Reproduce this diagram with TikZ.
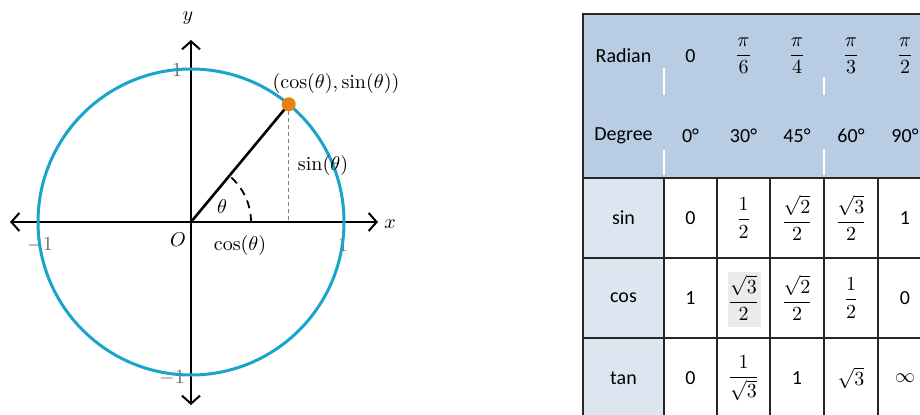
\documentclass[tikz,border=0pt]{standalone}
\usepackage{fontspec}
\newfontfamily\tabfont{Carlito}
\usetikzlibrary{arrows.meta,positioning,calc}
\definecolor{circblue}{HTML}{19A5CB}
\definecolor{ptorange}{HTML}{E8820E}
\definecolor{hdrblue}{HTML}{B8CCE4}
\definecolor{rowblue}{HTML}{DCE6F1}
\definecolor{gridline}{HTML}{262626}
\tikzset{
  axisline/.style={line width=1pt,
    {Straight Barb[length=4pt,width=9pt]}-{Straight Barb[length=4pt,width=9pt]}},
  ticklab/.style={font=\normalsize,text=black!60,inner sep=0pt},
  lab/.style={font=\normalsize,inner sep=1pt},
  cell/.style={font=\tabfont\normalsize,inner sep=0pt,align=center},
  gridln/.style={draw=gridline,line width=0.8pt},
  hdrgap/.style={draw=white,line width=0.7pt},
}
\newcommand{\fr}[2]{$\displaystyle\frac{#1}{#2}$}

\begin{document}
\begin{tikzpicture}[x=0.5pt,y=0.5pt]
  \useasboundingbox (0,0) rectangle (920,414);
  % unit circle
  \begin{scope}[shift={(191,192)}]
    \coordinate (O) at (0,0);
    \coordinate (xl) at (-181,0);
    \coordinate (xr) at (187,0);
    \coordinate (yb) at (0,-183);
    \coordinate (yt) at (0,182);
    \coordinate (P) at (50.3:153);
    \coordinate (Pf) at (P |- O);
    \node[ticklab] (t1y) at (-14,152) {$1$};
    \node[ticklab] (tm1y) at (-19,-156) {$-1$};
    \node[ticklab] (t1x) at (152,-23) {$1$};
    \node[ticklab] (tm1x) at (-151,-23) {$-1$};
    \draw[axisline] (xl) -- (xr);
    \draw[axisline] (yb) -- (yt);
    \draw[line width=0.8pt] (-6,153) -- (6,153) (-6,-153) -- (6,-153)
      (153,-6) -- (153,6) (-153,-6) -- (-153,6);
    \draw[circblue,line width=1.5pt] (O) circle (153);
    \draw[dashed,dash pattern=on 4pt off 3pt,line width=0.9pt] (60,0) arc (0:50.3:60);
    \draw[gray,dashed,dash pattern=on 2pt off 1.5pt,line width=0.5pt] (P) -- (Pf);
    \draw[line width=1.3pt] (O) -- (P);
    \fill[ptorange] (P) circle (7);
    \node[lab] (plab) at (145,139) {$(\cos(\theta),\sin(\theta))$};
    \node[lab] (slab) at (132,57) {$\sin(\theta)$};
    \node[lab] (clab) at (49,-23) {$\cos(\theta)$};
    \node[lab] (tlab) at (31,15) {$\theta$};
    \node[lab] (olab) at (-13,-18) {$O$};
    \node[lab] (xlab) at (199,-2) {$x$};
    \node[lab] (ylab) at (-3,204) {$y$};
  \end{scope}
  % table of values
  \begin{scope}
    \clip (575,0) rectangle (920,414);
    \fill[hdrblue] (583,236) rectangle (932,400);
    \fill[rowblue] (583,-4) rectangle (664,236);
    \fill[black!8] (728,87) rectangle (761,142);
    \draw[gridln] (583,-4) -- (583,400) -- (932,400);
    \draw[gridln] (583,236) -- (932,236);
    \draw[gridln] (583,156) -- (932,156);
    \draw[gridln] (583,76) -- (932,76);
    \foreach \x in {664,717,770,824,878}
      \draw[gridln] (\x,-4) -- (\x,236);
    \draw[hdrgap] (664,346) -- (664,319) (664,264) -- (664,239)
      (824,337) -- (824,319) (824,265) -- (824,239);
    \foreach \cx/\val [count=\c] in {623.5/Radian,690.5/0,743.5/\fr{\pi}{6},
        797/\fr{\pi}{4},851/\fr{\pi}{3},905/\fr{\pi}{2}}
      \node[cell] (rad\c) at (\cx,358) {\val};
    \foreach \cx/\val [count=\c] in {623.5/Degree,690.5/0°,743.5/30°,
        797/45°,851/60°,905/90°}
      \node[cell] (deg\c) at (\cx,278) {\val};
    \foreach \cx/\val [count=\c] in {623.5/sin,690.5/0,743.5/\fr{1}{2},
        797/\fr{\sqrt{2}}{2},851/\fr{\sqrt{3}}{2},905/1}
      \node[cell] (sin\c) at (\cx,196) {\val};
    \foreach \cx/\val [count=\c] in {623.5/cos,690.5/1,743.5/\fr{\sqrt{3}}{2},
        797/\fr{\sqrt{2}}{2},851/\fr{1}{2},905/0}
      \node[cell] (cos\c) at (\cx,116) {\val};
    \foreach \cx/\val [count=\c] in {623.5/tan,690.5/0,743.5/\fr{1}{\sqrt{3}},
        797/1,851/$\sqrt{3}$,905/$\infty$}
      \node[cell] (tan\c) at (\cx,36) {\val};
  \end{scope}
\end{tikzpicture}
\end{document}
